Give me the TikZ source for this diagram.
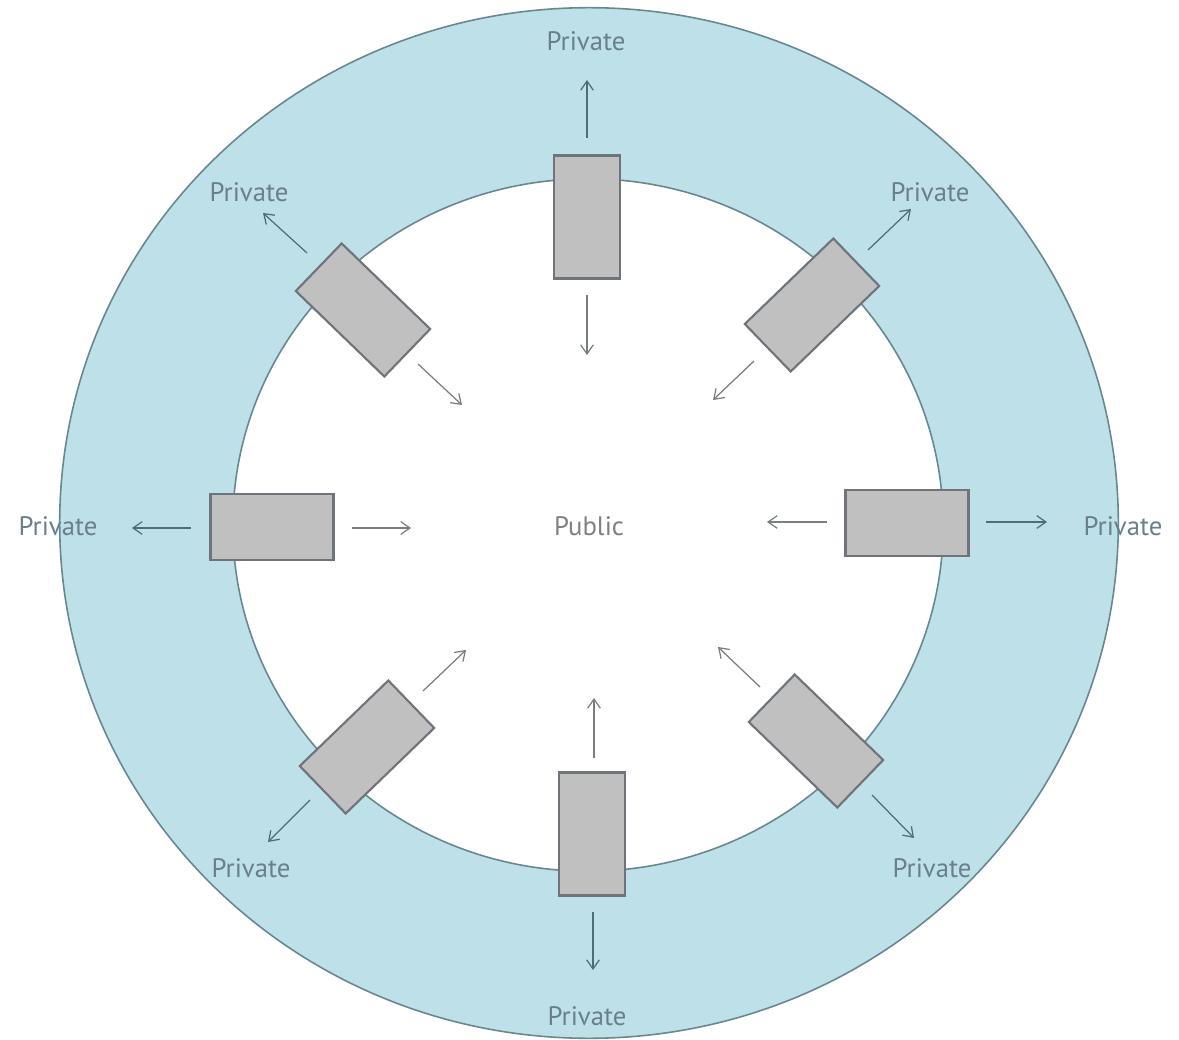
\documentclass[tikz,border=0pt]{standalone}
\usepackage{fontspec}
\setmainfont{PT Sans}
\usetikzlibrary{arrows.meta}
\definecolor{ringfill}{RGB}{190,224,232}
\definecolor{ringline}{RGB}{105,135,145}
\definecolor{boxfill}{RGB}{192,192,192}
\definecolor{boxline}{RGB}{110,116,122}
\definecolor{outarrow}{RGB}{80,108,120}
\definecolor{inarrow}{RGB}{120,125,128}
\definecolor{labeltext}{RGB}{105,128,140}
\definecolor{pubtext}{RGB}{128,128,128}
\begin{document}
\begin{tikzpicture}[x=0.01cm,y=-0.01cm,
  ringstroke/.style={draw=ringline,line width=0.45pt},
  gatebox/.style={draw=boxline,fill=boxfill,line width=0.6pt,rectangle,
    minimum width=1.23cm,minimum height=0.66cm,inner sep=0pt},
  lbl/.style={text=labeltext,font=\fontsize{7.6pt}{9pt}\selectfont,inner sep=0pt},
  publbl/.style={text=pubtext,font=\fontsize{7.6pt}{9pt}\selectfont,inner sep=0pt},
  outar/.style={draw=outarrow,line width=0.35pt,-{Straight Barb[length=2.6pt,width=3.6pt]}},
  inar/.style={draw=inarrow,line width=0.35pt,-{Straight Barb[length=2.6pt,width=3.6pt]}}]
\useasboundingbox (0,0) rectangle (1179,1040);
\fill[white] (0,0) rectangle (1179,1040);
% rings
\draw[ringstroke,fill=ringfill] (589,523) ellipse [x radius=5.29cm, y radius=5.15cm];
\draw[ringstroke,fill=white] (588,525) ellipse [x radius=3.55cm, y radius=3.46cm];
% gates
\node[gatebox,rotate=90]  (gT)  at (587,217) {};
\node[gatebox,rotate=90]  (gB)  at (592,834) {};
\node[gatebox]            (gL)  at (272,527) {};
\node[gatebox]            (gR)  at (907,523) {};
\node[gatebox,rotate=-44] (gTL) at (363,310) {};
\node[gatebox,rotate=44]  (gTR) at (812,305) {};
\node[gatebox,rotate=44]  (gBL) at (367,747) {};
\node[gatebox,rotate=-44] (gBR) at (816,741) {};
% labels
\node[lbl] (pT)  at (586,41)   {Private};
\node[lbl] (pB)  at (587,1016) {Private};
\node[lbl] (pL)  at (58,526)   {Private};
\node[lbl] (pR)  at (1123,526) {Private};
\node[lbl] (pTL) at (249,192)  {Private};
\node[lbl] (pTR) at (930,192)  {Private};
\node[lbl] (pBL) at (251,868)  {Private};
\node[lbl] (pBR) at (932,868)  {Private};
\node[publbl] (pub) at (589,526) {Public};
% arrow coordinates
\coordinate (aTo1) at (587,138); \coordinate (aTo2) at (587,80);
\coordinate (aTi1) at (587,295); \coordinate (aTi2) at (587,355);
\coordinate (aBi1) at (594,758); \coordinate (aBi2) at (594,698);
\coordinate (aBo1) at (593,912); \coordinate (aBo2) at (593,970);
\coordinate (aLo1) at (191,528); \coordinate (aLo2) at (132,528);
\coordinate (aLi1) at (352,528); \coordinate (aLi2) at (411,528);
\coordinate (aRi1) at (827,522); \coordinate (aRi2) at (767,522);
\coordinate (aRo1) at (986,522); \coordinate (aRo2) at (1047,522);
\coordinate (aTLo1) at (307,253); \coordinate (aTLo2) at (263,213);
\coordinate (aTLi1) at (418,364); \coordinate (aTLi2) at (462,405);
\coordinate (aTRo1) at (868,250); \coordinate (aTRo2) at (911,209);
\coordinate (aTRi1) at (754,361); \coordinate (aTRi2) at (713,400);
\coordinate (aBLi1) at (423,691); \coordinate (aBLi2) at (466,650);
\coordinate (aBLo1) at (310,800); \coordinate (aBLo2) at (268,842);
\coordinate (aBRi1) at (760,687); \coordinate (aBRi2) at (718,647);
\coordinate (aBRo1) at (872,795); \coordinate (aBRo2) at (914,838);
% arrows
\draw[outar] (aTo1) -- (aTo2);   \draw[inar] (aTi1) -- (aTi2);
\draw[inar]  (aBi1) -- (aBi2);   \draw[outar] (aBo1) -- (aBo2);
\draw[outar] (aLo1) -- (aLo2);   \draw[inar] (aLi1) -- (aLi2);
\draw[inar]  (aRi1) -- (aRi2);   \draw[outar] (aRo1) -- (aRo2);
\draw[outar] (aTLo1) -- (aTLo2); \draw[inar] (aTLi1) -- (aTLi2);
\draw[outar] (aTRo1) -- (aTRo2); \draw[inar] (aTRi1) -- (aTRi2);
\draw[inar]  (aBLi1) -- (aBLi2); \draw[outar] (aBLo1) -- (aBLo2);
\draw[inar]  (aBRi1) -- (aBRi2); \draw[outar] (aBRo1) -- (aBRo2);
\end{tikzpicture}
\end{document}
